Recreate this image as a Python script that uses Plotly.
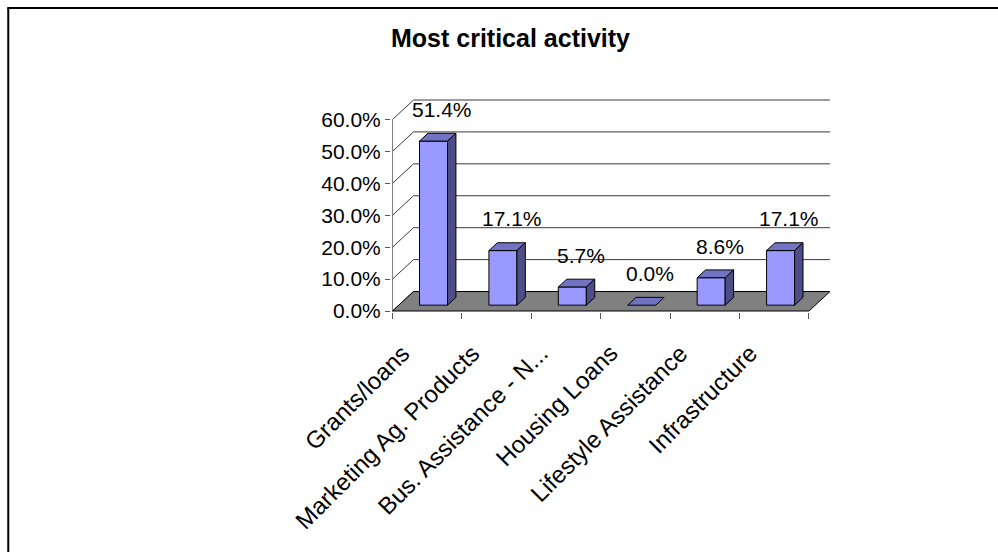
import plotly.graph_objects as go

# ---------------- data ----------------
categories = ["Grants/loans", "Marketing Ag. Products", "Bus. Assistance - N...",
              "Housing Loans", "Lifestyle Assistance", "Infrastructure"]
values = [51.4, 17.1, 5.7, 0.0, 8.6, 17.1]
value_labels = ["51.4%", "17.1%", "5.7%", "0.0%", "8.6%", "17.1%"]
y_ticks = [0, 10, 20, 30, 40, 50, 60]
y_tick_labels = ["0.0%", "10.0%", "20.0%", "30.0%", "40.0%", "50.0%", "60.0%"]
title_text = "Most critical activity"

# ---------------- geometry (pixels) ----------------
VW, VH = 998, 552    # browser viewport
OFF = 0.0            # body margin removed by post_script
W, H = int(VW - OFF), int(VH - OFF)
X0_PX = 392.5        # front x = -0.5
SX = 69.37           # px per category
Y0_PX = 311.0        # front y = 0
SY = 3.197           # px per percent
DXP, DYP = 21.0, 19.5
DX = DXP / SX
DY = DYP / SY
F1, F2 = 0.3, 0.7    # bar depth (fraction of floor depth)
HW = 14.0 / SX       # bar half width

ymax = max(y_ticks)
x_range = [-0.5 - 1.5 / SX, 5.5 + DX + 3 / SX]
y_range = [-1.0 / SY, ymax + DY + 2 / SY]

left = X0_PX - 1.5 - OFF
right = X0_PX + (6 + DX) * SX + 3 - OFF
top = Y0_PX - (ymax + DY) * SY - 2 - OFF
bottom = Y0_PX + 1 - OFF
PW, PH = right - left, bottom - top


def px2paper_x(px):
    return (px - OFF - left) / PW


def px2paper_y(py):
    return (bottom - (py - OFF)) / PH


FONT = "Liberation Sans, Arial, sans-serif"
fig = go.Figure()


def poly(xs, ys, fill, line="black", width=1):
    fig.add_trace(go.Scatter(x=xs, y=ys, mode="lines", fill="toself" if fill else None,
                             fillcolor=fill, line=dict(color=line, width=width),
                             hoverinfo="skip", showlegend=False))


# back wall gridlines
gx, gy = [], []
for v in y_ticks:
    gx += [-0.5 + DX, 5.5 + DX, None]
    gy += [v + DY, v + DY, None]
poly(gx, gy, None, "#3a3a3a", 1)
# left wall diagonals
dx_, dy_ = [], []
for v in y_ticks:
    dx_ += [-0.5, -0.5 + DX, None]
    dy_ += [v, v + DY, None]
poly(dx_, dy_, None, "#3a3a3a", 1)
# front value axis line
poly([-0.5, -0.5], [0, ymax], None, "#808080", 1)
# floor
n = len(categories)
poly([-0.5, n - 0.5, n - 0.5 + DX, -0.5 + DX, -0.5], [0, 0, DY, DY, 0], "#808080", "black", 1)

# bars
fx, fy, tx, ty, sx, sy = [], [], [], [], [], []
for i, v in enumerate(values):
    a = i - HW + F1 * DX
    b = i + HW + F1 * DX
    a2 = i - HW + F2 * DX
    b2 = i + HW + F2 * DX
    y1 = F1 * DY
    y2 = F2 * DY
    if v > 0:
        fx += [a, b, b, a, a, None]
        fy += [y1, y1, v + y1, v + y1, y1, None]
        sx += [b, b2, b2, b, b, None]
        sy += [y1, y2, v + y2, v + y1, y1, None]
    tx += [a, b, b2, a2, a, None]
    ty += [v + y1, v + y1, v + y2, v + y2, v + y1, None]
poly(fx, fy, "#9999FF")
poly(tx, ty, "#7373C4")
poly(sx, sy, "#4D4D88")

annotations = []
for i, (v, lab) in enumerate(zip(values, value_labels)):
    annotations.append(dict(x=i + 0.5 * DX, y=v + F1 * DY, xref="x", yref="y", text=lab,
                            showarrow=False, xanchor="center", yanchor="middle",
                            xshift=4.5, yshift=31.7,
                            font=dict(family=FONT, size=21, color="black")))
for i, cat in enumerate(categories):
    annotations.append(dict(x=i, y=0, xref="x", yref="y", text=cat, showarrow=False,
                            textangle=-45, xanchor="right", yanchor="top",
                            xshift=-10, yshift=-26,
                            font=dict(family=FONT, size=24, color="black")))
annotations.append(dict(x=px2paper_x(510), y=px2paper_y(38), xref="paper", yref="paper",
                        text="<b>" + title_text + "</b>", showarrow=False,
                        xanchor="center", yanchor="middle",
                        font=dict(family=FONT, size=25, color="black")))

border = dict(color="black", width=2)
fig.update_layout(
    width=W, height=H,
    margin=dict(l=left, r=W - right, t=top, b=H - bottom, pad=0),
    paper_bgcolor="white", plot_bgcolor="rgba(0,0,0,0)",
    showlegend=False,
    annotations=annotations,
    xaxis=dict(range=x_range, showgrid=False, zeroline=False, showline=False,
               tickvals=[k - 0.5 for k in range(n + 1)], ticks="outside", ticklen=6,
               tickcolor="#555555", showticklabels=False, fixedrange=True),
    yaxis=dict(range=y_range, showgrid=False, zeroline=False, showline=False,
               tickvals=y_ticks, ticktext=y_tick_labels, ticks="outside", ticklen=5,
               tickcolor="#555555", tickfont=dict(family=FONT, size=21, color="black"),
               fixedrange=True),
    shapes=[
        dict(type="line", xref="paper", yref="paper",
             x0=px2paper_x(8.5), x1=px2paper_x(8.5),
             y0=px2paper_y(7.5), y1=px2paper_y(VH + 2), line=border, layer="above"),
        dict(type="line", xref="paper", yref="paper",
             x0=px2paper_x(7.5), x1=px2paper_x(VW + 2),
             y0=px2paper_y(7.5), y1=px2paper_y(7.5), line=border, layer="above"),
    ],
)

fig.write_html(
    "out.html",
    config={"displayModeBar": False},
    post_script="document.body.style.margin='0';"
                "document.documentElement.style.overflow='hidden';"
                "document.body.style.overflow='hidden';",
)
